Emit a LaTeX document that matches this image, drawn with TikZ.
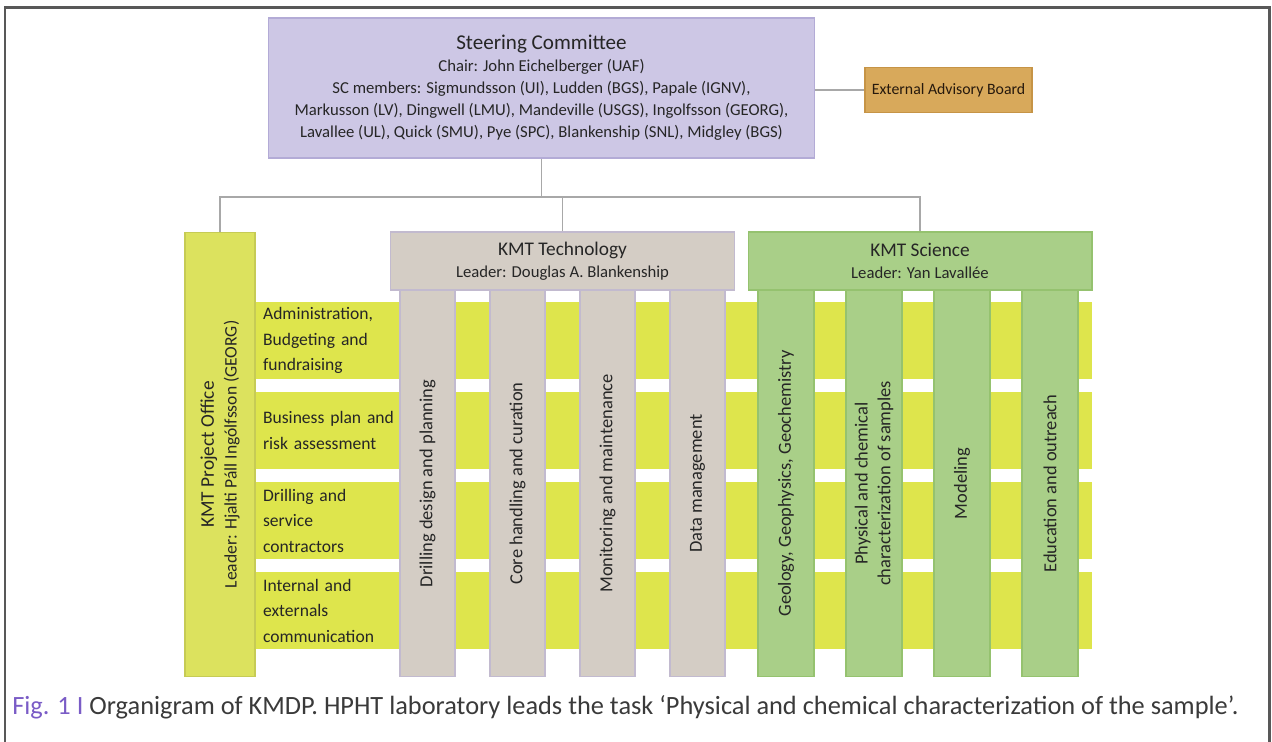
\documentclass[tikz,border=0pt]{standalone}
\usepackage{fontspec}
\setmainfont{Carlito}
\usepackage{xcolor}
\usetikzlibrary{positioning}

\definecolor{scfill}{HTML}{CDC7E5}
\definecolor{scline}{HTML}{B3ABD6}
\definecolor{ebfill}{HTML}{D8A95B}
\definecolor{ebline}{HTML}{C69446}
\definecolor{pofill}{HTML}{DCE25E}
\definecolor{rowfill}{HTML}{DEE54C}
\definecolor{techfill}{HTML}{D4CDC5}
\definecolor{techline}{HTML}{C2BACF}
\definecolor{scifill}{HTML}{A9CF88}
\definecolor{sciline}{HTML}{95C26F}
\definecolor{linkgray}{HTML}{A8A8A8}
\definecolor{framegray}{HTML}{585858}
\definecolor{figpurple}{HTML}{7A5CC6}
\definecolor{capgray}{HTML}{3A3A3A}

\begin{document}
\begin{tikzpicture}[x=0.02cm, y=-0.02cm,
  box/.style={draw, line width=0.6pt, inner sep=0pt, align=center, text=black!85},
  link/.style={draw=linkgray, line width=0.9pt},
  rowbar/.style={box, draw=none, fill=rowfill, minimum width=16.74cm, minimum height=1.54cm,
    text width=16.42cm, align=left, font=\fontsize{10}{14.5}\selectfont},
  techcol/.style={box, rotate=90, fill=techfill, draw=techline, minimum width=7.74cm,
    minimum height=1.1cm, font=\fontsize{10.5}{13}\selectfont},
  scicol/.style={box, rotate=90, fill=scifill, draw=sciline, minimum width=7.74cm,
    minimum height=1.12cm, font=\fontsize{10.5}{13}\selectfont}]
  \useasboundingbox (0,0) rectangle (1272,742);
  % frame round the figure
  \draw[framegray, line width=1.7pt] (5,742) -- (5,8) -- (1269,8) -- (1269,742);

  % Steering committee and advisory board
  \node[box, fill=scfill, draw=scline, minimum width=10.94cm, minimum height=2.8cm,
    font=\fontsize{9.5}{12.5}\selectfont] (sc) at (541.5,88)
    {{\fontsize{12}{14}\selectfont Steering Committee}\\
     Chair: John Eichelberger (UAF)\\
     SC members: Sigmundsson (UI), Ludden (BGS), Papale (IGNV),\\
     Markusson (LV), Dingwell (LMU), Mandeville (USGS), Ingolfsson (GEORG),\\
     Lavallee (UL), Quick (SMU), Pye (SPC), Blankenship (SNL), Midgley (BGS)};
  \node[box, fill=ebfill, draw=ebline, minimum width=3.34cm, minimum height=0.9cm,
    text=black!80!brown, font=\fontsize{9}{11}\selectfont] (eab) at (948.5,90) {External Advisory Board};

  % Task rows (behind the columns)
  \node[rowbar] (r1) at (673.5,340.5) {Administration,\\Budgeting and\\fundraising};
  \node[rowbar] (r2) at (673.5,430.5) {Business plan and\\risk assessment};
  \node[rowbar] (r3) at (673.5,520.5) {Drilling and\\service\\contractors};
  \node[rowbar] (r4) at (673.5,610.5) {Internal and\\externals\\communication};

  % Project office
  \node[box, rotate=90, fill=pofill, draw=pofill!90!black, minimum width=8.9cm, minimum height=1.4cm,
    font=\fontsize{10}{13}\selectfont] (po) at (220,454.5)
    {{\fontsize{11}{13}\selectfont KMT Project Office}\\Leader: Hjalti Páll Ingólfsson (GEORG)};

  % Technology branch
  \node[box, fill=techfill, draw=techline, minimum width=6.9cm, minimum height=1.16cm,
    font=\fontsize{9.5}{12.5}\selectfont] (tech) at (562.5,261)
    {{\fontsize{11}{13}\selectfont KMT Technology}\\Leader: Douglas A. Blankenship};
  \node[techcol] (t1) at (427.5,483.5) {Drilling design and planning};
  \node[techcol] (t2) at (517.5,483.5) {Core handling and curation};
  \node[techcol] (t3) at (607.5,483.5) {Monitoring and maintenance};
  \node[techcol] (t4) at (697.5,483.5) {Data management};

  % Science branch
  \node[box, fill=scifill, draw=sciline, minimum width=6.88cm, minimum height=1.16cm,
    font=\fontsize{9.5}{12.5}\selectfont] (sci) at (920,261)
    {{\fontsize{11}{13}\selectfont KMT Science}\\Leader: Yan Lavallée};
  \node[scicol] (s1) at (786,483.5) {Geology, Geophysics, Geochemistry};
  \node[scicol] (s2) at (874,483.5) {Physical and chemical\\characterization of samples};
  \node[scicol] (s3) at (962,483.5) {Modeling};
  \node[scicol] (s4) at (1050,483.5) {Education and outreach};

  % Links
  \coordinate (bus) at (0,197);
  \draw[link] (sc.east |- eab.west) -- (eab.west);
  \draw[link] (sc.south) -- (sc.south |- bus);
  \draw[link] (po.east) -- (po.east |- bus) -- (sci.north |- bus) -- (sci.north);
  \draw[link] (tech.north) -- (tech.north |- bus);

  % Caption
  \node[anchor=west, inner sep=0pt, text=capgray, font=\fontsize{15}{17}\selectfont] (cap) at (12,707)
    {\textcolor{figpurple}{Fig. 1 I} Organigram of KMDP. HPHT laboratory leads the task ‘Physical and chemical characterization of the sample’.};
\end{tikzpicture}
\end{document}
